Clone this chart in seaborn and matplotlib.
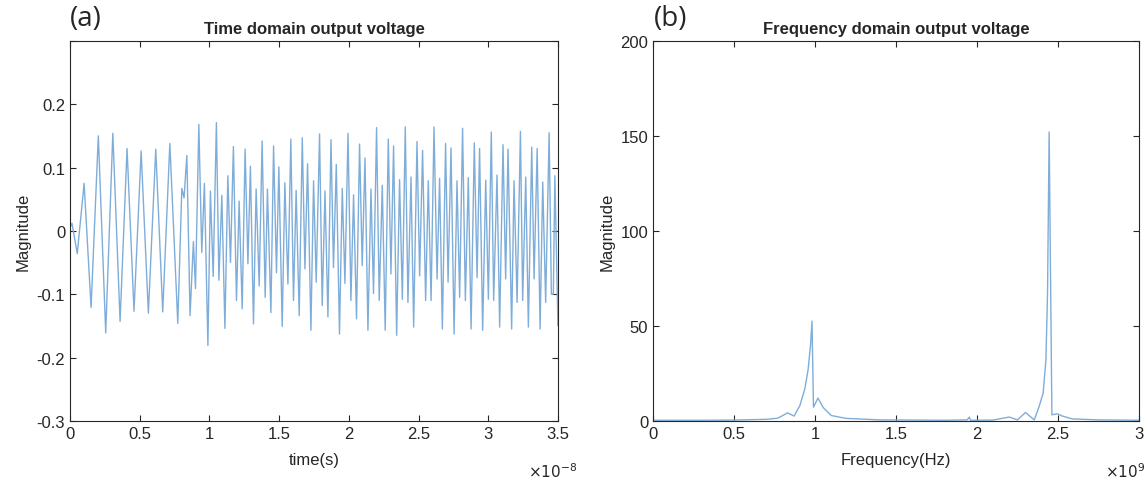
import numpy as np
import pandas as pd
import seaborn as sns
import matplotlib
matplotlib.use("Agg")
import matplotlib.pyplot as plt

# Panel (a): peaks and troughs (time in ns, volts)
time_ns = [
    0.00, 0.14, 0.52, 1.01, 1.51, 2.03, 2.56, 3.07, 3.59, 4.09,
    4.59, 5.10, 5.62, 6.15, 6.65, 7.16, 7.73, 8.02, 8.18, 8.38,
    8.61, 8.85, 9.00, 9.24, 9.45, 9.64, 9.89, 10.07, 10.27, 10.50,
    10.68, 10.89, 11.11, 11.32, 11.51, 11.72, 11.94, 12.13, 12.35, 12.56,
    12.76, 12.94, 13.16, 13.35, 13.57, 13.78, 14.00, 14.16, 14.41, 14.60,
    14.81, 14.98, 15.22, 15.41, 15.63, 15.84, 16.03, 16.22, 16.44, 16.66,
    16.85, 17.04, 17.28, 17.47, 17.66, 17.90, 18.09, 18.29, 18.50, 18.72,
    18.90, 19.10, 19.33, 19.53, 19.72, 19.94, 20.15, 20.34, 20.55, 20.77,
    20.96, 21.16, 21.37, 21.59, 21.77, 21.99, 22.18, 22.40, 22.61, 22.83,
    23.02, 23.21, 23.43, 23.64, 23.84, 24.05, 24.24, 24.46, 24.65, 24.89,
    25.08, 25.29, 25.51, 25.70, 25.90, 26.11, 26.33, 26.51, 26.71, 26.94,
    27.12, 27.33, 27.55, 27.76, 27.95, 28.16, 28.36, 28.57, 28.77, 29.00,
    29.20, 29.38, 29.60, 29.82, 30.01, 30.22, 30.39, 30.63, 30.82, 31.06,
    31.25, 31.42, 31.68, 31.85, 32.07, 32.31, 32.47, 32.69, 32.88, 33.12,
    33.29, 33.51, 33.72, 33.91, 34.12, 34.37, 34.53, 34.67, 34.78, 35.00,
]
voltage = [
    0.005, 0.012, -0.036, 0.075, -0.121, 0.150, -0.161, 0.154, -0.143, 0.130,
    -0.127, 0.126, -0.130, 0.129, -0.128, 0.138, -0.146, 0.067, 0.052, 0.119,
    -0.134, -0.017, -0.091, 0.168, -0.034, 0.075, -0.181, 0.063, -0.072, 0.171,
    -0.078, 0.056, -0.154, 0.087, -0.050, 0.133, -0.110, 0.047, -0.123, 0.129,
    -0.052, 0.102, -0.147, 0.066, -0.087, 0.142, -0.105, 0.066, -0.129, 0.134,
    -0.066, 0.101, -0.151, 0.076, -0.084, 0.145, -0.110, 0.064, -0.134, 0.147,
    -0.060, 0.106, -0.157, 0.079, -0.081, 0.153, -0.118, 0.063, -0.136, 0.144,
    -0.058, 0.105, -0.163, 0.067, -0.083, 0.154, -0.110, 0.057, -0.139, 0.137,
    -0.055, 0.115, -0.157, 0.066, -0.099, 0.163, -0.110, 0.072, -0.157, 0.145,
    -0.068, 0.134, -0.165, 0.081, -0.108, 0.164, -0.113, 0.085, -0.152, 0.141,
    -0.071, 0.127, -0.110, 0.079, -0.110, 0.164, -0.076, 0.083, -0.155, 0.138,
    -0.081, 0.131, -0.163, 0.079, -0.105, 0.162, -0.110, 0.084, -0.155, 0.139,
    -0.074, 0.130, -0.157, 0.080, -0.108, 0.156, -0.110, 0.088, -0.152, 0.136,
    -0.076, 0.129, -0.155, 0.079, -0.113, 0.157, -0.110, 0.085, -0.152, 0.132,
    -0.076, 0.130, -0.155, 0.077, -0.113, 0.155, -0.100, -0.100, 0.087, -0.150,
]

# Panel (b): spectrum (GHz, magnitude)
freq_ghz = [
    0.00, 0.30, 0.50, 0.70, 0.77, 0.83, 0.87, 0.906, 0.937, 0.957,
    0.972, 0.981, 0.990, 1.018, 1.05, 1.10, 1.19, 1.40, 1.80, 1.94,
    1.953, 1.96, 2.10, 2.20, 2.25, 2.30, 2.354, 2.384, 2.409, 2.426,
    2.436, 2.446, 2.463, 2.497, 2.528, 2.59, 2.75, 3.00,
]
magnitude = [
    0.3, 0.3, 0.4, 0.8, 1.4, 4.2, 2.5, 8.0, 17.0, 27.0,
    40.0, 52.5, 7.2, 12.0, 7.0, 2.8, 1.3, 0.5, 0.3, 0.5,
    2.0, 0.3, 0.4, 2.0, 0.5, 4.4, 0.5, 7.5, 14.6, 32.0,
    67.0, 152.0, 3.2, 3.7, 2.5, 1.0, 0.5, 0.3,
]

time_ticks = [0, 0.5, 1, 1.5, 2, 2.5, 3, 3.5]      # x 1e-8 s
volt_ticks = [-0.3, -0.2, -0.1, 0, 0.1, 0.2, 0.3]
freq_ticks = [0, 0.5, 1, 1.5, 2, 2.5, 3]           # x 1e9 Hz
mag_ticks = [0, 50, 100, 150, 200]

LINE = "#7fadd9"
AXC = "#262626"

sns.set_style("ticks")
plt.rcParams["font.family"] = ["Liberation Sans", "DejaVu Sans"]
plt.rcParams.update({
    "xtick.direction": "in", "ytick.direction": "in",
    "xtick.top": True, "ytick.right": True,
    "xtick.major.size": 4, "ytick.major.size": 4,
    "xtick.color": AXC, "ytick.color": AXC,
    "axes.edgecolor": AXC, "axes.linewidth": 0.8,
})

df_t = pd.DataFrame({"t": np.array(time_ns) * 1e-9, "v": voltage})
df_f = pd.DataFrame({"f": np.array(freq_ghz) * 1e9, "m": magnitude})

fig = plt.figure(figsize=(11.48, 4.81), dpi=100)
ax1 = fig.add_axes([0.061, 0.123, 0.425, 0.790])
ax2 = fig.add_axes([0.569, 0.123, 0.423, 0.790])

sns.lineplot(data=df_t, x="t", y="v", ax=ax1, color=LINE, lw=1.0,
             estimator=None, sort=False)
sns.lineplot(data=df_f, x="f", y="m", ax=ax2, color=LINE, lw=1.0,
             estimator=None, sort=False)

# (a)
ax1.set_xlim(0, 3.5e-8)
ax1.set_ylim(-0.3, 0.3)
ax1.set_xticks([v * 1e-8 for v in time_ticks])
ax1.set_xticklabels([f"{v:g}" for v in time_ticks])
ax1.set_yticks(volt_ticks)
ax1.set_yticklabels([f"{v:g}" for v in volt_ticks[:-1]] + [""])
ax1.set_xlabel("time(s)", fontsize=12, color=AXC, labelpad=8)
ax1.set_ylabel("Magnitude", fontsize=12, color=AXC, labelpad=4)
ax1.set_title("Time domain output voltage", fontsize=12, fontweight="bold", pad=6)
ax1.text(0.99, -0.13, r"$\times10^{-8}$", transform=ax1.transAxes,
         fontsize=11, ha="center", va="center", color=AXC)

# (b)
ax2.set_xlim(0, 3e9)
ax2.set_ylim(0, 200)
ax2.set_xticks([v * 1e9 for v in freq_ticks])
ax2.set_xticklabels([f"{v:g}" for v in freq_ticks])
ax2.set_yticks(mag_ticks)
ax2.set_yticklabels([str(v) for v in mag_ticks])
ax2.set_xlabel("Frequency(Hz)", fontsize=12, color=AXC, labelpad=8)
ax2.set_ylabel("Magnitude", fontsize=12, color=AXC, labelpad=4)
ax2.set_title("Frequency domain output voltage", fontsize=12, fontweight="bold", pad=6)
ax2.text(0.972, -0.13, r"$\times10^{9}$", transform=ax2.transAxes,
         fontsize=11, ha="center", va="center", color=AXC)

for ax in (ax1, ax2):
    ax.tick_params(labelsize=12, width=0.8)
    for s in ax.spines.values():
        s.set_visible(True)

fig.text(0.061, 0.960, "(a)", fontsize=20, ha="left", va="center",
         family=["Open Sans", "DejaVu Sans"])
fig.text(0.570, 0.960, "(b)", fontsize=20, ha="left", va="center",
         family=["Open Sans", "DejaVu Sans"])

fig.savefig("out.png", dpi=100)
